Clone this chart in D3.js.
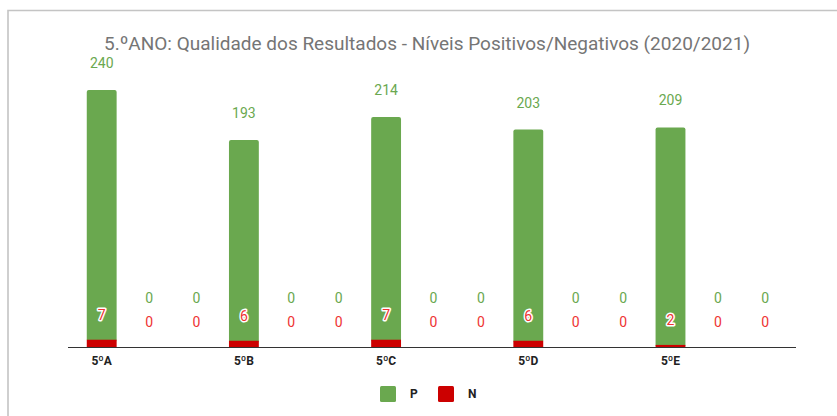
<!DOCTYPE html>
<html>
<head>
<meta charset="utf-8">
<script src="https://cdn.jsdelivr.net/npm/d3@7"></script>
<style>
  body { margin: 0; background: #fff; }
  svg { display: block; font-family: Roboto, Arial, sans-serif; }
</style>
</head>
<body>
<div class="chart"><svg></svg></div>
<script>
"use strict";

const W = 837;
const H = 416;

// data
const categories = ['5ºA', '', ' ', '5ºB', '  ', '   ', '5ºC', '    ', '     ', '5ºD', '      ', '       ', '5ºE', '        ', '         '];
const positivos = [240, 0, 0, 193, 0, 0, 214, 0, 0, 203, 0, 0, 209, 0, 0];
const negativos = [7, 0, 0, 6, 0, 0, 7, 0, 0, 6, 0, 0, 2, 0, 0];
const seriesNames = ['P', 'N'];
const colors = ['#6aa84f', '#cc0000'];
const title = '5.ºANO: Qualidade dos Resultados - Níveis Positivos/Negativos (2020/2021)';

const svg = d3.select('svg')
    .attr('width', W)
    .attr('height', H);

// frame
svg.append('path')
    .attr('d', 'M8,416V10.5H837')
    .attr('fill', 'none')
    .attr('stroke', '#c4c4c4')
    .attr('stroke-width', 1.6);

svg.append('text')
    .attr('x', 427)
    .attr('y', 50)
    .attr('text-anchor', 'middle')
    .attr('font-family', 'Roboto, Arial, sans-serif')
    .attr('font-size', 19)
    .attr('fill', '#757575')
    .text(title);

const x = d3.scaleBand()
    .domain(categories)
    .range([78, 789])
    .paddingInner(0.37)
    .paddingOuter(0.185);

const y = d3.scaleLinear()
    .domain([0, 247])
    .range([347, 90]);

const rows = categories.map((c, i) => ({cat: c, p: positivos[i], n: negativos[i]}));

const gBars = svg.append('g');

// N at bottom, P stacked on top
gBars.selectAll('rect.p')
    .data(rows.filter(d => d.p > 0))
    .join('rect')
    .attr('class', 'p')
    .attr('x', d => x(d.cat))
    .attr('width', x.bandwidth())
    .attr('y', d => y(d.n + d.p))
    .attr('height', d => y(d.n) - y(d.n + d.p) + 2)
    .attr('rx', 2)
    .attr('fill', colors[0]);

gBars.selectAll('rect.n')
    .data(rows.filter(d => d.n > 0))
    .join('rect')
    .attr('class', 'n')
    .attr('x', d => x(d.cat))
    .attr('width', x.bandwidth())
    .attr('y', d => y(d.n))
    .attr('height', d => y(0) - y(d.n))
    .attr('fill', colors[1]);

// axis line
svg.append('line')
    .attr('x1', 68)
    .attr('x2', 796)
    .attr('y1', y(0) + 0.5)
    .attr('y2', y(0) + 0.5)
    .attr('stroke', '#333')
    .attr('stroke-width', 1);

const xAxis = svg.append('g')
    .attr('transform', `translate(0,${y(0)})`)
    .call(d3.axisBottom(x).tickSize(0).tickPadding(9));
xAxis.select('.domain').remove();
xAxis.selectAll('text')
    .attr('font-family', 'Roboto, Arial, sans-serif')
    .attr('font-size', 12)
    .attr('font-weight', 'bold')
    .attr('fill', '#222');

// value labels
const nLabelY = d => y(d.n) - 25;
const pLabelY = d => Math.min(y(d.n + d.p) - 27, nLabelY(d) - 24);

const gLab = svg.append('g')
    .attr('font-family', 'Roboto, Arial, sans-serif')
    .attr('font-size', 14)
    .attr('text-anchor', 'middle')
    .attr('dominant-baseline', 'central');

gLab.selectAll('text.pl')
    .data(rows)
    .join('text')
    .attr('class', 'pl')
    .attr('x', d => x(d.cat) + x.bandwidth() / 2)
    .attr('y', d => pLabelY(d))
    .attr('fill', colors[0])
    .text(d => d.p);

gLab.selectAll('text.nl')
    .data(rows)
    .join('text')
    .attr('class', 'nl')
    .attr('x', d => x(d.cat) + x.bandwidth() / 2)
    .attr('y', d => nLabelY(d))
    .attr('fill', '#e33')
    .attr('stroke', d => d.n > 0 ? '#fff' : 'none')
    .attr('stroke-width', 3)
    .attr('stroke-linejoin', 'round')
    .attr('paint-order', 'stroke')
    .text(d => d.n);

// legend
const legend = svg.append('g')
    .selectAll('g')
    .data(seriesNames)
    .join('g')
    .attr('transform', (d, i) => `translate(${380 + i * 58},386)`);

legend.append('rect')
    .attr('width', 16)
    .attr('height', 16)
    .attr('rx', 1.5)
    .attr('fill', (d, i) => colors[i]);

legend.append('text')
    .attr('x', 30)
    .attr('y', 8)
    .attr('dominant-baseline', 'central')
    .attr('font-family', 'Roboto, Arial, sans-serif')
    .attr('font-size', 12)
    .attr('font-weight', 'bold')
    .attr('fill', '#222')
    .text(d => d);
</script>
</body>
</html>
